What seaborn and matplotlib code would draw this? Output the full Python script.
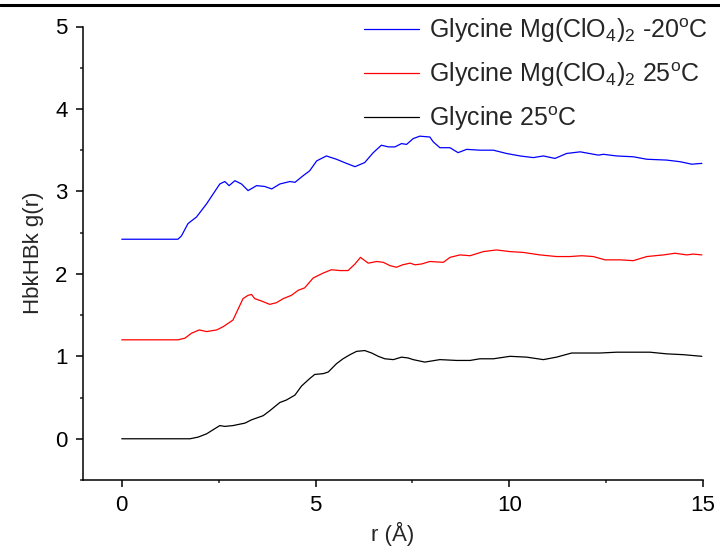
import numpy as np
import pandas as pd
import matplotlib
matplotlib.use("Agg")
import matplotlib.pyplot as plt
from matplotlib.lines import Line2D
from matplotlib.ticker import MultipleLocator
import seaborn as sns

# ---- data ----
r_blue = [0.0, 1.45, 1.54, 1.71, 1.93, 2.19, 2.36, 2.53, 2.66, 2.77, 2.92, 3.09, 3.26, 3.48,
          3.69, 3.87, 4.08, 4.34, 4.47, 4.68, 4.85, 5.03, 5.28, 5.54, 5.80, 6.02, 6.27, 6.49,
          6.70, 6.88, 7.05, 7.22, 7.35, 7.52, 7.69, 7.95, 8.04, 8.21, 8.47, 8.68, 8.90, 9.24,
          9.59, 9.93, 10.28, 10.62, 10.88, 11.18, 11.48, 11.83, 12.30, 12.43, 12.77, 13.20,
          13.55, 14.06, 14.41, 14.71, 14.97]
g_blue = [2.42, 2.42, 2.46, 2.61, 2.69, 2.85, 2.97, 3.09, 3.12, 3.07, 3.13, 3.09, 3.01, 3.07,
          3.06, 3.03, 3.09, 3.12, 3.11, 3.19, 3.25, 3.37, 3.43, 3.39, 3.34, 3.30, 3.35, 3.47,
          3.56, 3.54, 3.54, 3.58, 3.57, 3.64, 3.67, 3.66, 3.60, 3.53, 3.53, 3.47, 3.51, 3.50,
          3.50, 3.46, 3.43, 3.41, 3.43, 3.40, 3.46, 3.48, 3.44, 3.45, 3.43, 3.42,
          3.39, 3.38, 3.36, 3.33, 3.34]

r_red = [0.0, 1.45, 1.63, 1.80, 2.00, 2.19, 2.45, 2.62, 2.87, 3.00, 3.13, 3.26, 3.35, 3.43,
         3.61, 3.82, 3.99, 4.17, 4.38, 4.55, 4.72, 4.94, 5.20, 5.41, 5.63, 5.84, 6.02, 6.16,
         6.36, 6.58, 6.75, 6.92, 7.09, 7.25, 7.44, 7.57, 7.74, 7.95, 8.30, 8.47, 8.73, 8.99,
         9.33, 9.67, 10.02, 10.36, 10.79, 11.22, 11.57, 11.87, 12.17, 12.47, 12.86, 13.20,
         13.55, 13.98, 14.28, 14.58, 14.75, 14.97]
g_red = [1.20, 1.20, 1.22, 1.28, 1.32, 1.30, 1.32, 1.36, 1.44, 1.57, 1.70, 1.74, 1.75, 1.70,
         1.67, 1.63, 1.65, 1.70, 1.74, 1.80, 1.83, 1.95, 2.01, 2.05, 2.04, 2.04, 2.12, 2.20,
         2.13, 2.15, 2.14, 2.10, 2.08, 2.11, 2.13, 2.11, 2.12, 2.15, 2.14, 2.20, 2.23, 2.22,
         2.27, 2.29, 2.27, 2.26, 2.23, 2.21, 2.21, 2.22, 2.21, 2.17, 2.17, 2.16,
         2.21, 2.23, 2.25, 2.23, 2.24, 2.23]

r_black = [0.0, 1.76, 1.97, 2.19, 2.36, 2.53, 2.66, 2.87, 3.18, 3.35, 3.65, 3.82, 4.08, 4.25,
           4.47, 4.64, 4.85, 4.98, 5.20, 5.33, 5.54, 5.71, 5.89, 6.06, 6.27, 6.45, 6.62, 6.79,
           7.01, 7.22, 7.39, 7.52, 7.82, 8.21, 8.64, 8.99, 9.24, 9.59, 10.02, 10.45, 10.88,
           11.22, 11.61, 12.00, 12.34, 12.77, 13.20, 13.63, 14.06, 14.49, 14.97]
g_black = [0.00, 0.00, 0.02, 0.06, 0.11, 0.16, 0.15, 0.16, 0.19, 0.23, 0.28, 0.34, 0.44, 0.47,
           0.53, 0.64, 0.73, 0.78, 0.79, 0.81, 0.91, 0.97, 1.02, 1.06, 1.07, 1.04, 1.00, 0.97,
           0.96, 0.99, 0.98, 0.96, 0.93, 0.96, 0.95, 0.95, 0.97, 0.97, 1.00, 0.99, 0.96,
           0.99, 1.04, 1.04, 1.04, 1.05, 1.05, 1.05, 1.03, 1.02, 1.00]

labels = [r"Glycine Mg(ClO$\mathregular{_4}$)$\mathregular{_2}$ -20$\mathregular{^o}$C",
          r"Glycine Mg(ClO$\mathregular{_4}$)$\mathregular{_2}$ 25$\mathregular{^o}$C",
          r"Glycine 25$\mathregular{^o}$C"]
colors = ["#0000ff", "#ff0000", "#000000"]
x_ticks = [0, 5, 10, 15]
y_ticks = [0, 1, 2, 3, 4, 5]

df = pd.concat([
    pd.DataFrame({"r": r_blue, "g": g_blue, "series": labels[0]}),
    pd.DataFrame({"r": r_red, "g": g_red, "series": labels[1]}),
    pd.DataFrame({"r": r_black, "g": g_black, "series": labels[2]}),
], ignore_index=True)

sns.set_style("ticks")
plt.rcParams["font.family"] = ["Liberation Sans", "DejaVu Sans"]
plt.rcParams["mathtext.fontset"] = "custom"
plt.rcParams["mathtext.rm"] = "Liberation Sans"
plt.rcParams["mathtext.it"] = "Liberation Sans:italic"
plt.rcParams["mathtext.bf"] = "Liberation Sans:bold"

fig = plt.figure(figsize=(7.2, 5.48), dpi=100)
ax = fig.add_axes([83 / 720, 68 / 548, 620 / 720, 453.5 / 548])

sns.lineplot(data=df, x="r", y="g", hue="series", hue_order=labels,
             palette=dict(zip(labels, colors)), estimator=None, sort=False,
             linewidth=0.9, ax=ax)

ax.set_xlim(-1, 15)
ax.set_ylim(-0.5, 5)
ax.set_xticks(x_ticks)
ax.set_yticks(y_ticks)
ax.xaxis.set_minor_locator(MultipleLocator(2.5))
ax.yaxis.set_minor_locator(MultipleLocator(0.5))
ax.tick_params(which="major", direction="out", length=5, width=1.1, labelsize=16, pad=6,
               colors="black")
ax.tick_params(which="minor", direction="out", length=2.5, width=1.1)
for s in ["left", "bottom"]:
    ax.spines[s].set_linewidth(1.1)
    ax.spines[s].set_color("black")
sns.despine(ax=ax)

ax.set_xlabel("r (Å)", fontsize=16, labelpad=4)
ax.set_ylabel("HbkHBk g(r)", fontsize=16, labelpad=8)

leg = ax.legend(loc="upper right", frameon=False, fontsize=18, handlelength=2.2,
                labelspacing=0.62, handletextpad=0.4, borderaxespad=0.0,
                bbox_to_anchor=(1.024, 1.045))
for h in leg.get_lines():
    h.set_linewidth(0.9)

fig.add_artist(Line2D([0, 1], [0.9905, 0.9905], color="black", linewidth=2.2,
                      transform=fig.transFigure))

fig.savefig("out.png", dpi=100)
